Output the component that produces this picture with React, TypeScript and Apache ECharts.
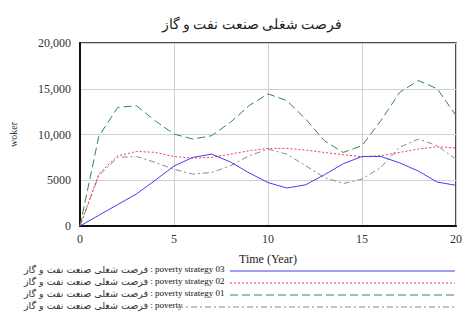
import React, { useEffect, useRef } from "react";
import * as echarts from "echarts";

const title = "فرصت شغلی صنعت نفت و گاز";
const years = [0, 1, 2, 3, 4, 5, 6, 7, 8, 9, 10, 11, 12, 13, 14, 15, 16, 17, 18, 19, 20];
const strategy03 = [0, 1170, 2330, 3500, 5000, 6550, 7500, 7850, 7000, 5800, 4750, 4150, 4500, 5600, 6800, 7600, 7600, 6900, 6000, 4800, 4450];
const strategy02 = [0, 5700, 7650, 8150, 8050, 7600, 7420, 7500, 7850, 8230, 8480, 8480, 8300, 8040, 7790, 7570, 7680, 8040, 8410, 8670, 8520];
const strategy01 = [0, 9800, 12950, 13150, 11500, 10050, 9500, 9870, 11330, 13160, 14440, 13700, 11700, 9320, 8040, 8780, 11500, 14600, 15900, 15000, 12070];
const poverty = [0, 5500, 7500, 7600, 6950, 6200, 5670, 5850, 6580, 7680, 8400, 7860, 6580, 5300, 4640, 5120, 6400, 8600, 9500, 8780, 7310];
const yTickLabels: Record<number, string> = { 0: "0", 5000: "5000", 10000: "10,000", 15000: "15,000", 20000: "20,000" };
const runNames = ["poverty strategy 03", "poverty strategy 02", "poverty strategy 01", "poverty"];
const seriesNames = runNames.map((r) => title + " : " + r);

const FONT = "'Liberation Serif', 'DejaVu Serif', serif";
const colors = ["#3f3ff5", "#ff3355", "#2f8a4a", "#8a8a8a"];
const dashes: any[] = ["solid", [2, 2], [8, 4], [6, 3, 2, 3]];

export default function App() {
  const ref = useRef<HTMLDivElement>(null);
  useEffect(() => {
    if (!ref.current) return;
    const chart = echarts.init(ref.current, null, { renderer: "svg" });
    const allData = [strategy03, strategy02, strategy01, poverty];
    const order = [2, 3, 1, 0];
    const legendY = [271, 283, 295, 307];
    const lineStart = [230, 230, 230, 177];
    const graphics: any[] = [];
    runNames.forEach((r, i) => {
      graphics.push({
        type: "text",
        left: 24,
        top: legendY[i] - 7,
        style: {
          text: "{fa|" + title + "}{en| : " + r + "}",
          rich: {
            fa: { fontFamily: "'DejaVu Sans', sans-serif", fontSize: 9.5, fill: "#333", padding: [1, 0, 0, 0] },
            en: { fontFamily: FONT, fontSize: 9, fill: "#111" },
          },
        },
      });
      graphics.push({
        type: "line",
        shape: { x1: lineStart[i], y1: legendY[i], x2: 455, y2: legendY[i] },
        style: { stroke: colors[i], lineWidth: 1, lineDash: dashes[i] === "solid" ? null : dashes[i] },
      });
    });
    chart.setOption({
      animation: false,
      title: {
        text: title,
        left: 247,
        top: 12,
        textAlign: "center",
        textStyle: { fontFamily: FONT, fontSize: 13.5, fontWeight: "normal", color: "#222" },
      },
      grid: {
        left: 79,
        right: 7,
        top: 43,
        bottom: 89,
        show: true,
        borderColor: "#111",
        borderWidth: 1.5,
      },
      xAxis: {
        type: "value",
        min: 0,
        max: 20,
        interval: 5,
        name: "Time (Year)",
        nameLocation: "middle",
        nameGap: 27,
        nameTextStyle: { fontFamily: FONT, fontSize: 12, color: "#222" },
        axisLine: { show: true, lineStyle: { color: "#111", width: 2 } },
        axisTick: { show: false },
        axisLabel: { fontFamily: FONT, fontSize: 12, color: "#333", margin: 7 },
        splitLine: { show: true, lineStyle: { color: "#d0d0d0", width: 1 } },
      },
      yAxis: {
        type: "value",
        min: 0,
        max: 20000,
        interval: 5000,
        name: "woker",
        nameLocation: "middle",
        nameGap: 62,
        nameRotate: 90,
        nameTextStyle: { fontFamily: FONT, fontSize: 10, color: "#333" },
        axisLine: { show: true, lineStyle: { color: "#111", width: 2 } },
        axisTick: { show: false },
        axisLabel: {
          fontFamily: FONT,
          fontSize: 12,
          color: "#333",
          margin: 9,
          formatter: (v: number) => yTickLabels[v] ?? String(v),
        },
        splitLine: { show: true, lineStyle: { color: "#d0d0d0", width: 1 } },
      },
      series: order.map((i) => ({
        name: seriesNames[i],
        type: "line",
        data: years.map((y, k) => [y, allData[i][k]]),
        showSymbol: false,
        lineStyle: { color: colors[i], width: 1, type: dashes[i] },
        itemStyle: { color: colors[i] },
      })),
      graphic: graphics,
    });
    return () => chart.dispose();
  }, []);
  return <div ref={ref} style={{ width: 465, height: 315, position: "absolute", left: 0, top: 0 }} />;
}
